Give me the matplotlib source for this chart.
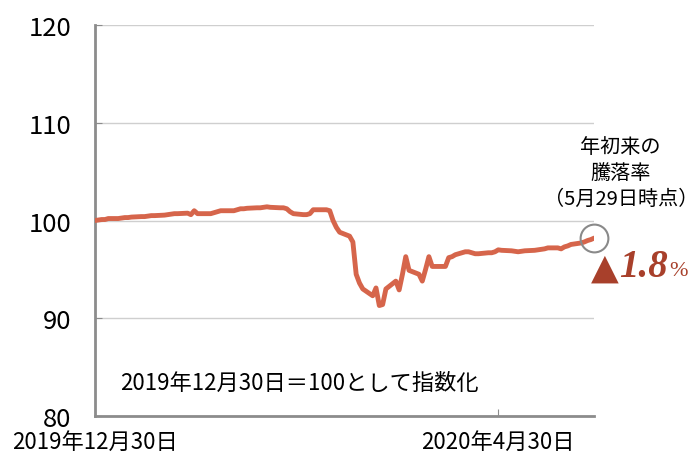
import numpy as np
import pandas as pd
import matplotlib
matplotlib.use("Agg")
import matplotlib.pyplot as plt

plt.rcParams['font.family'] = ['Noto Sans CJK JP', 'DejaVu Sans']

# daily index (business days), 2019-12-30 = 100
dates = pd.bdate_range('2019-12-30', '2020-05-29')
values = [
    100.0, 100.05, 100.1, 100.1, 100.2, 100.2, 100.25, 100.3, 100.3, 100.35,
    100.4, 100.4, 100.45, 100.5, 100.5, 100.55, 100.6, 100.65, 100.7, 100.7,
    100.75, 100.6, 101.0, 100.7, 100.7, 100.7, 100.8, 100.9, 101.0, 101.0,
    101.0, 101.1, 101.2, 101.2, 101.25, 101.3, 101.3, 101.35, 101.4, 101.35,
    101.3, 101.3, 101.2, 100.9, 100.7, 100.6, 100.6, 100.7, 101.1, 101.1,
    101.1, 101.0, 100.0, 99.3, 98.8, 98.4, 97.8, 94.5, 93.6, 93.0,
    92.3, 93.1, 91.3, 91.4, 93.0, 93.8, 92.9, 94.5, 96.3, 94.9,
    94.5, 93.8, 95.0, 96.3, 95.3, 95.3, 95.3, 96.2, 96.3, 96.5,
    96.8, 96.8, 96.7, 96.6, 96.6, 96.7, 96.7, 96.8, 97.0, 96.95,
    96.9, 96.85, 96.8, 96.85, 96.9, 96.95, 97.0, 97.05, 97.1, 97.2,
    97.2, 97.1, 97.3, 97.4, 97.55, 97.7, 97.8, 97.95, 98.05, 98.2,
]
y_ticks = [80, 90, 100, 110, 120]
x_tick_dates = ['2019-12-30', '2020-04-30']
x_tick_labels = ['2019年12月30日', '2020年4月30日']
change_pct = '1.8'

line_color = '#d6654b'
dark_red = '#a8402b'
axis_grey = '#8c8c8c'

fig = plt.figure(figsize=(6.99, 4.56), dpi=100)
ax = fig.add_axes([0.136, 0.0855, 0.714, 0.8575])

ax.plot(dates, values, color=line_color, linewidth=3.5, solid_capstyle='round', zorder=3)

ax.set_ylim(80, 120)
ax.set_yticks(y_ticks)
ax.set_xlim(dates[0], dates[-1])
ax.set_xticks(pd.to_datetime(x_tick_dates))
ax.set_xticklabels(x_tick_labels)

ax.grid(axis='y', color='#cfcfcf', linewidth=1.0)
ax.set_axisbelow(True)
for s in ['top', 'right']:
    ax.spines[s].set_visible(False)
for s in ['left', 'bottom']:
    ax.spines[s].set_color(axis_grey)
    ax.spines[s].set_linewidth(2.0)
ax.tick_params(axis='y', direction='in', length=5, color=axis_grey, labelsize=18.5, pad=17)
ax.tick_params(axis='x', direction='in', length=5, color=axis_grey, labelsize=16, pad=10)

# circle at the last point
ax.plot(dates[-1:], values[-1:], marker='o', markersize=20, markerfacecolor='none',
        markeredgecolor='#8a8a8a', markeredgewidth=1.5, clip_on=False, zorder=4)

fig.text(0.428, 0.160, '2019年12月30日＝100として指数化', fontsize=16,
         ha='center', va='center')
fig.text(0.888, 0.620, '年初来の\n騰落率\n（5月29日時点）', fontsize=14.5,
         ha='center', va='center', linespacing=1.3)
fig.text(0.865, 0.411, '▲', fontsize=26, color=dark_red, ha='center', va='center',
         family='DejaVu Sans')
fig.text(0.886, 0.413, change_pct, fontsize=28, color=dark_red, ha='left', va='center',
         family='Liberation Serif', style='italic', weight='bold')
fig.text(0.958, 0.405, '%', fontsize=16, color=dark_red, ha='left', va='center',
         family='Liberation Serif')

fig.savefig('out.png', dpi=100)
